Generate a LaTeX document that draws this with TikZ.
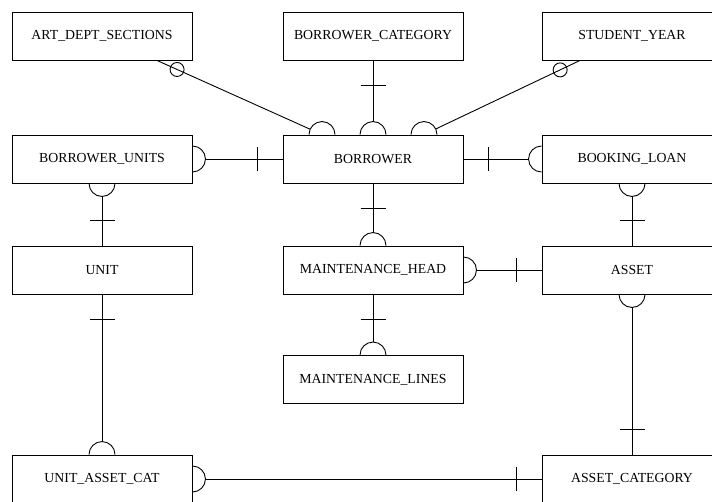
\documentclass[tikz,border=0pt]{standalone}
\usepackage{fontspec}
\setmainfont{Liberation Serif}
\usetikzlibrary{positioning,calc}

\begin{document}
\begin{tikzpicture}[x=1pt,y=1pt,line width=0.9pt,node distance=100pt,on grid,
		entity/.style={draw,minimum width=180pt,minimum height=48pt,inner sep=0pt,font=\fontsize{13.8}{16}\selectfont}]
		\useasboundingbox (0,0) rectangle (712,-501);
		\node[entity](art) at (102,-36) {ART\_DEPT\_SECTIONS};
		\node[entity](bcat)[right=271pt of art] {BORROWER\_CATEGORY};
		\node[entity](syear)[right=259pt of bcat] {STUDENT\_YEAR};
		\node[entity](bunits)[below=123pt of art] {BORROWER\_UNITS};
		\node[entity](borrower)[below=123pt of bcat] {BORROWER};
		\node[entity](bloan)[below=123pt of syear] {BOOKING\_LOAN};
		\node[entity](unit)[below=111pt of bunits] {UNIT};
		\node[entity](mhead)[below=111pt of borrower] {MAINTENANCE\_HEAD};
		\node[entity](asset)[below=111pt of bloan] {ASSET};
		\node[entity](mlines)[below=109.5pt of mhead] {MAINTENANCE\_LINES};
		\node[entity](uacat)[below=209pt of unit] {UNIT\_ASSET\_CAT};
		\node[entity](acat)[below=209pt of asset] {ASSET\_CATEGORY};
		\coordinate (artfoot) at ([xshift=55]art.south);
		\coordinate (syfoot) at ([xshift=-52]syear.south);
		\coordinate (bleft) at ([xshift=-51]borrower.north);
		\coordinate (bright) at ([xshift=51]borrower.north);
		% connectors
		\draw[shorten >=13pt] (artfoot) -- (bleft);
		\draw[shorten >=13pt] (syfoot) -- (bright);
		\draw (bcat.south) -- ([yshift=13]borrower.north);
		\draw ([xshift=13]bunits.east) -- (borrower.west);
		\draw (borrower.east) -- ([xshift=-13]bloan.west);
		\draw ([yshift=-13]bunits.south) -- (unit.north);
		\draw ([yshift=-13]bloan.south) -- (asset.north);
		\draw (borrower.south) -- ([yshift=13]mhead.north);
		\draw ([xshift=13]mhead.east) -- (asset.west);
		\draw (mhead.south) -- ([yshift=13]mlines.north);
		\draw (unit.south) -- ([yshift=13]uacat.north);
		\draw ([yshift=-13]asset.south) -- (acat.north);
		\draw ([xshift=13]uacat.east) -- (acat.west);
		% optional circles
		\draw ($(artfoot)!22pt!(bleft)$) circle (7);
		\draw ($(syfoot)!22pt!(bright)$) circle (7);
		% many ends
		\foreach \d in {-51,0,51}
			\draw ([xshift=\d-13]borrower.north) arc (180:0:13);
		\foreach \n in {mhead.north,mlines.north,uacat.north}
			\draw ([xshift=-13]\n) arc (180:0:13);
		\foreach \n in {bunits.south,bloan.south,asset.south}
			\draw ([xshift=-13]\n) arc (180:360:13);
		\foreach \n in {bunits.east,mhead.east,uacat.east}
			\draw ([yshift=13]\n) arc (90:-90:13);
		\draw ([yshift=13]bloan.west) arc (90:270:13);
		% one ends
		\foreach \n/\s in {bcat.south/-25,borrower.south/-25,mhead.south/-25,unit.south/-25,unit.north/25,asset.north/25,acat.north/25}
			\draw ([yshift=\s]\n) ++(-12.5,0) -- ++(25,0);
		\foreach \n/\s in {borrower.west/-25,borrower.east/25,asset.west/-25,acat.west/-25}
			\draw ([xshift=\s]\n) ++(0,-12) -- ++(0,24);
\end{tikzpicture}
\end{document}
